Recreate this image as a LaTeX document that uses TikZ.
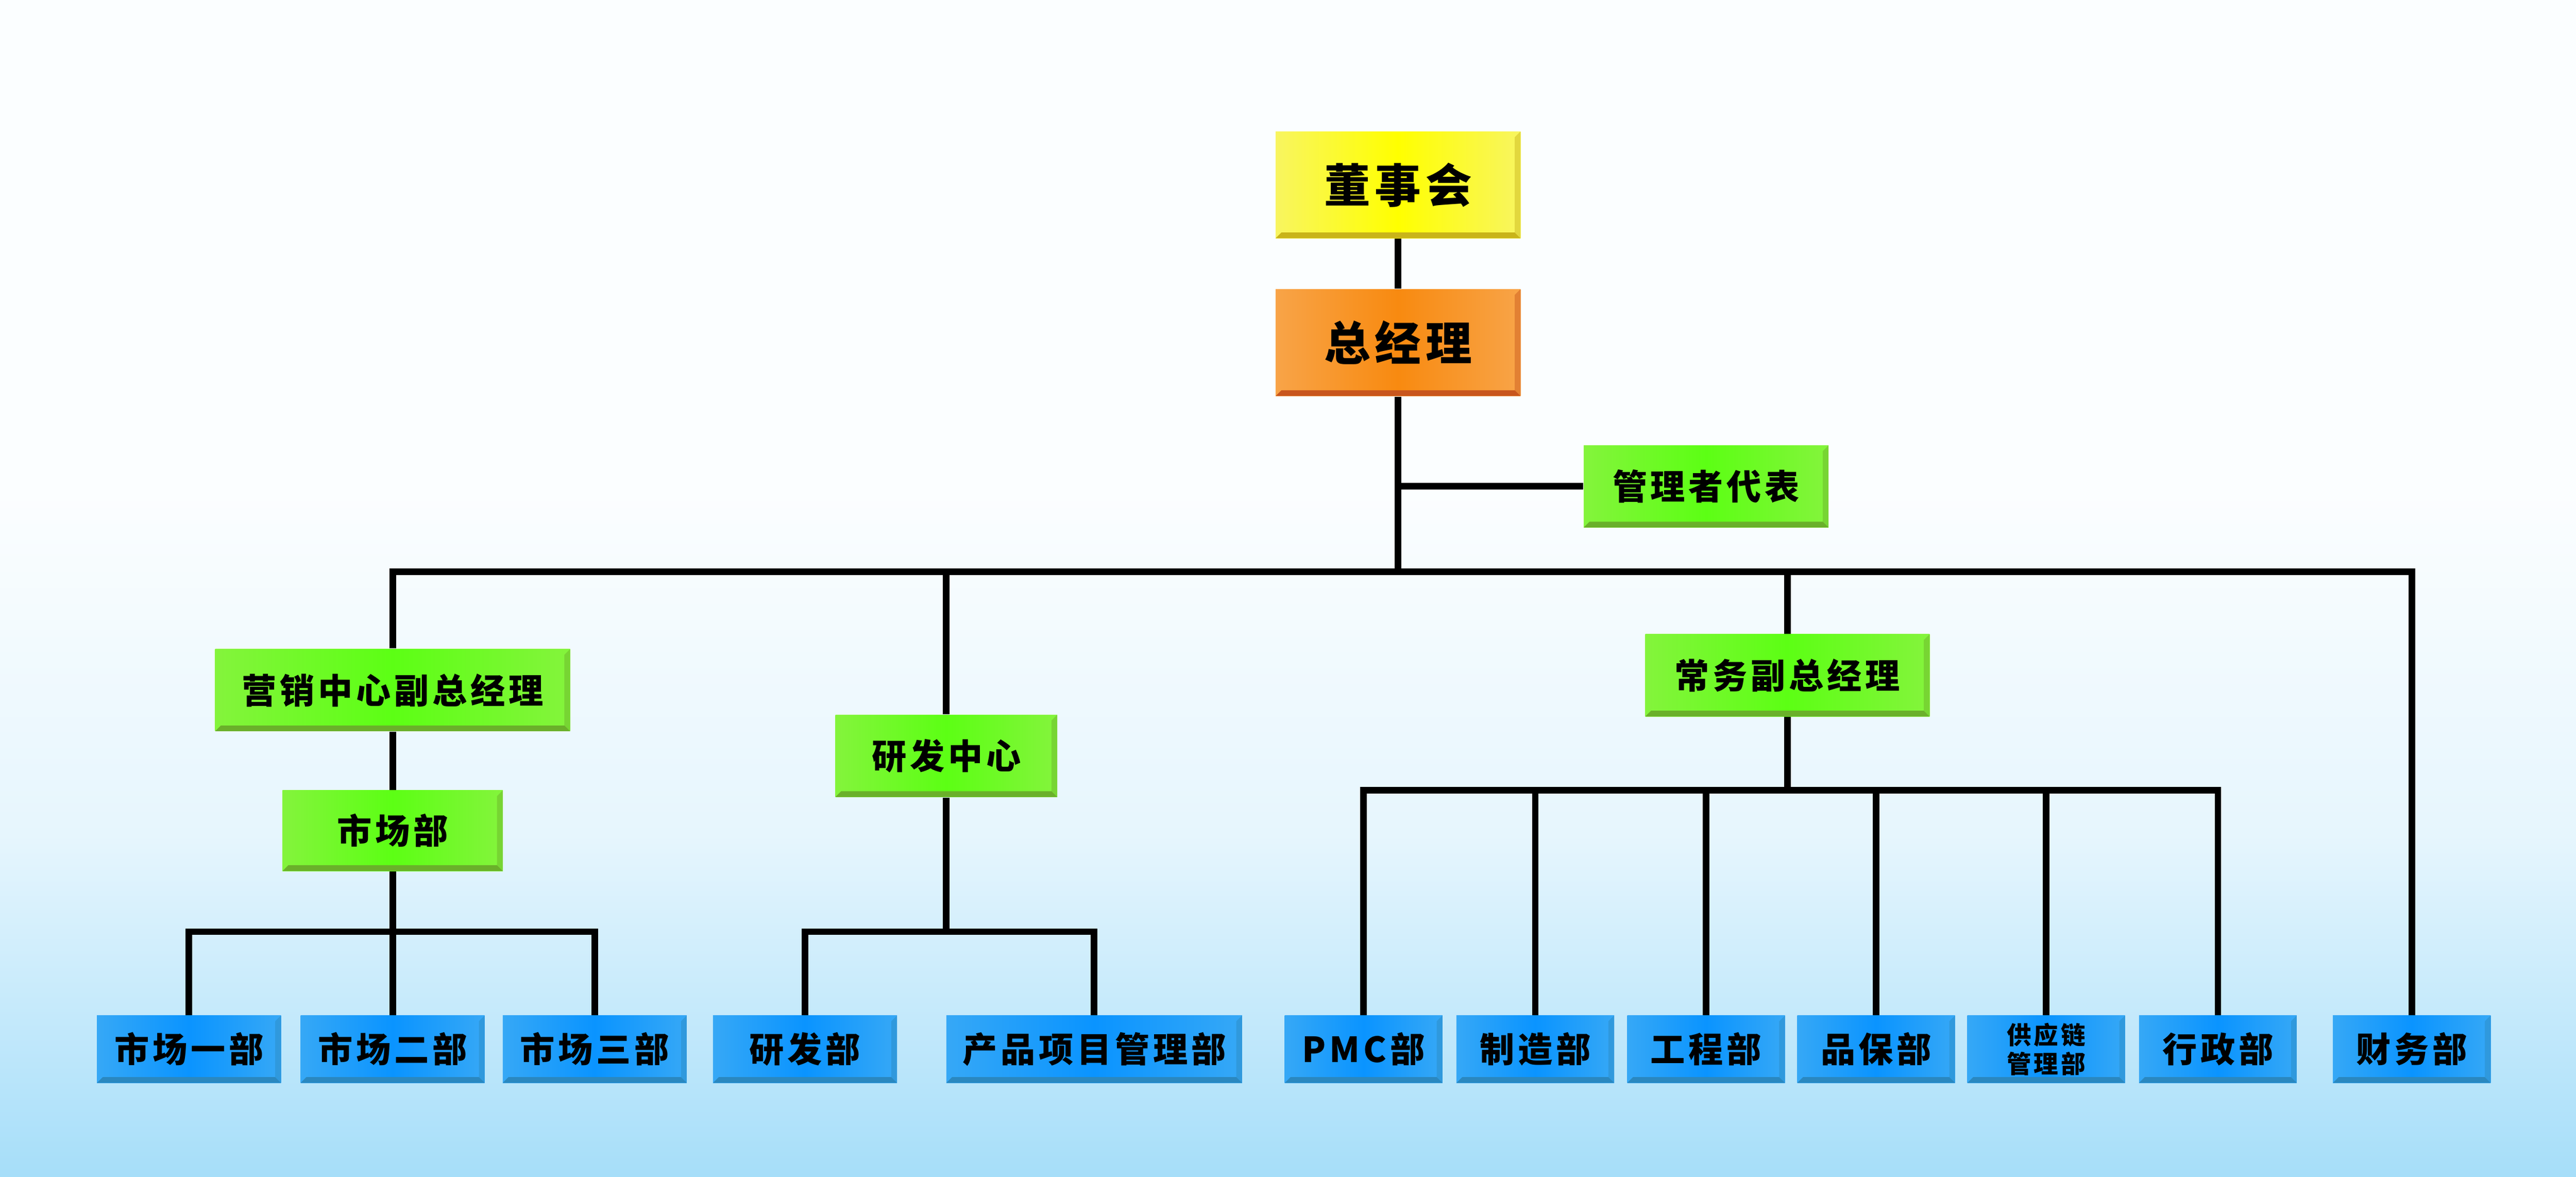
\documentclass[tikz,border=0pt]{standalone}
\usepackage{fontspec}
\newfontfamily\cjk{Noto Sans CJK SC}[LetterSpace=10, BoldFont={Noto Sans CJK SC Black}]
\definecolor{yel}{HTML}{FFFF00}
\definecolor{yelL}{HTML}{F8F560}
\definecolor{yelD}{HTML}{C9B419}
\definecolor{org}{HTML}{F88A10}
\definecolor{orgL}{HTML}{F8A448}
\definecolor{orgD}{HTML}{C8561E}
\definecolor{grn}{HTML}{5CFF14}
\definecolor{grnL}{HTML}{84F43C}
\definecolor{grnD}{HTML}{6AB02A}
\definecolor{blu}{HTML}{0A94FF}
\definecolor{bluL}{HTML}{36A8F6}
\definecolor{bluD}{HTML}{2A88C0}
\definecolor{bg}{HTML}{A6DEF9}
\tikzset{
	bevel/.style={path picture={
		\fill[#1] (path picture bounding box.south west) -- (path picture bounding box.south east)
			-- ([shift={(-0.7mm,0.7mm)}]path picture bounding box.south east)
			-- ([shift={(0.7mm,0.7mm)}]path picture bounding box.south west) -- cycle;
		\fill[#1,opacity=.45] (path picture bounding box.south east) -- (path picture bounding box.north east)
			-- ([shift={(-0.7mm,-0.7mm)}]path picture bounding box.north east)
			-- ([shift={(-0.7mm,0.7mm)}]path picture bounding box.south east) -- cycle;
	}},
	n/.style={inner sep=0pt, align=center, text=black, font=\cjk\bfseries\fontsize{12}{14}\selectfont},
	chief/.style={n, minimum width=29.8mm, minimum height=13mm, font=\cjk\bfseries\fontsize{16}{18}\selectfont},
	board/.style={chief, left color=yelL, right color=yelL, middle color=yel, bevel=yelD},
	gm/.style={chief, left color=orgL, right color=orgL, middle color=org, bevel=orgD},
	vp/.style={n, minimum height=10mm, left color=grnL, right color=grnL, middle color=grn, bevel=grnD},
	dept/.style={n, minimum width=22.4mm, minimum height=8.2mm, left color=bluL, right color=bluL, middle color=blu, bevel=bluD},
	conn/.style={line width=0.8mm, black}
}
\begin{document}
\begin{tikzpicture}[x=0.2mm, y=-0.2mm]

	% background
	\fill[white!96!bg] (0,0) rectangle (1568,300);
	\shade[top color=white!96!bg, bottom color=bg, middle color=white!72!bg] (0,300) rectangle (1568,716);
	\useasboundingbox (0,0) rectangle (1568,716);

	\node[board] (dsh) at (851,112.5) {董事会};

	\node[gm] (zjl) at (851,208.5) {总经理}
		edge [conn] (dsh)
	;

	\node[vp, minimum width=29.8mm] (glz) at (1038.5,296) {管理者代表}
		edge [conn] (glz -| zjl)
	;

	% main bus
	\coordinate (bl) at (239,348);
	\coordinate (br) at (1468,348);

	\node[vp, minimum width=43.2mm] (yx) at (239,420) {营销中心副总经理};
	\node[vp, minimum width=27mm] (yfzx) at (576,460) {研发中心}
		edge [conn] (yfzx |- bl)
	;
	\node[vp, minimum width=34.6mm] (cwf) at (1088,411) {常务副总经理}
		edge [conn] (cwf |- bl)
	;
	\node[dept, minimum width=19.2mm] (cw) at (1468,638.5) {财务部};

	\draw[conn] (zjl) -- (zjl |- bl);
	\draw[conn] (yx) -- (bl) -- (br) -- (cw);

	% marketing
	\node[vp, minimum width=26.8mm, minimum height=9.8mm] (scb) at (239,505.5) {市场部}
		edge [conn] (yx)
	;
	\coordinate (scbus) at (239,567);
	\node[dept] (sc1) at (115,638.5) {市场一部};
	\node[dept] (sc2) at (239,638.5) {市场二部}
		edge [conn] (scb)
	;
	\node[dept] (sc3) at (362,638.5) {市场三部};
	\draw[conn] (sc1) -- (sc1 |- scbus) -- (sc3 |- scbus) -- (sc3);

	% r&d
	\coordinate (yfbus) at (576,567);
	\node[dept] (yfb) at (490,638.5) {研发部};
	\node[dept, minimum width=36mm] (cpxm) at (666,638.5) {产品项目管理部};
	\draw[conn] (yfb) -- (yfb |- yfbus) -- (cpxm |- yfbus) -- (cpxm);
	\draw[conn] (yfzx) -- (yfbus);

	% operations
	\coordinate (cwbus) at (1088,481);
	\node[dept, minimum width=19.2mm] (pmc) at (830,638.5) {PMC部};
	\node[dept, minimum width=19.2mm] (zz) at (934.5,638.5) {制造部}
		edge [conn] (zz |- cwbus)
	;
	\node[dept, minimum width=19.2mm] (gc) at (1038.5,638.5) {工程部}
		edge [conn] (gc |- cwbus)
	;
	\node[dept, minimum width=19.2mm] (pb) at (1142,638.5) {品保部}
		edge [conn] (pb |- cwbus)
	;
	\node[dept, minimum width=19.2mm, font=\cjk\bfseries\fontsize{8.5}{10}\selectfont] (gyl) at (1245.5,638.5) {供应链\\管理部}
		edge [conn] (gyl |- cwbus)
	;
	\node[dept, minimum width=19.2mm] (xz) at (1350,638.5) {行政部};
	\draw[conn] (pmc) -- (pmc |- cwbus) -- (xz |- cwbus) -- (xz);
	\draw[conn] (cwf) -- (cwbus);

\end{tikzpicture}
\end{document}
